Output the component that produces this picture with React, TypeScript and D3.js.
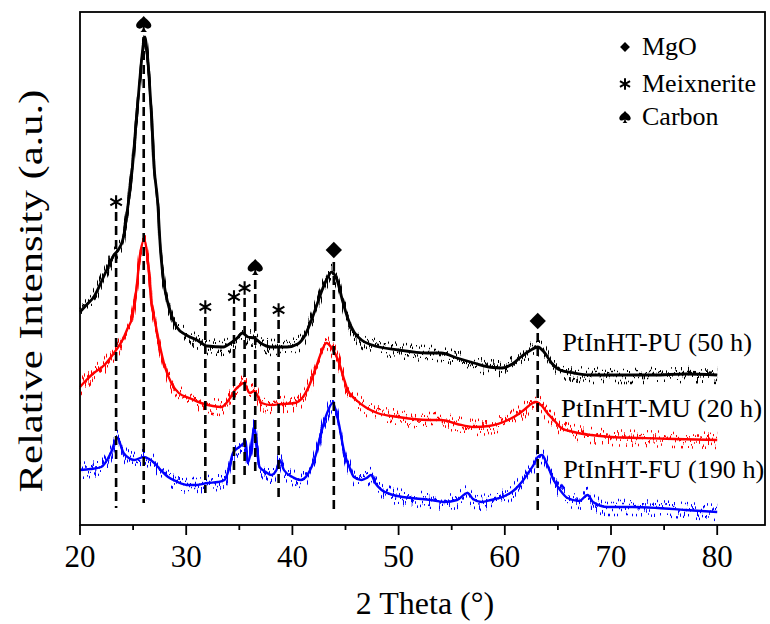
import React from "react";
import * as d3 from "d3";

// ---------- data (2θ in degrees, intensity in arbitrary units, stacked offsets included) ----------
const puTheta = [20.0,20.6,21.3,22.3,23.2,23.6,24.1,24.5,25.0,25.3,25.6,25.9,26.1,26.3,26.7,27.0,27.3,27.6,27.9,28.2,28.6,29.1,30.0,31.0,32.0,33.5,34.2,34.8,35.3,35.8,36.4,37.0,38.0,39.5,40.5,41.2,41.8,42.3,42.8,43.2,43.7,44.2,44.7,45.2,45.8,46.5,47.5,50.0,52.7,54.0,55.5,57.1,58.5,59.7,60.7,61.5,62.3,63.1,63.7,64.4,65.2,66.5,68.0,70.0,74.0,77.0,80.0];
const puIntensity = [213,220,228,250,270,275,288,318,365,405,442,475,488,475,415,355,325,272,242,225,210,198,190,185,179,178,182,187,192,188,187,182,178,178,181,190,205,220,235,245,253,245,225,207,193,185,180,175,172,172,167,162,158,157,161,168,174,178,173,162,155,152,150,150,150,151,150];

const muTheta = [20.0,20.6,21.3,22.3,23.2,24.0,24.5,24.9,25.3,25.65,26.05,26.4,26.75,27.0,27.4,28.0,28.6,29.3,30.3,31.4,32.5,33.3,34.0,34.6,35.1,35.4,36.0,36.4,37.1,38.0,39.0,40.2,41.0,41.8,42.3,42.7,43.2,43.7,44.3,44.8,45.2,46.0,47.0,48.0,50.0,52.7,54.0,55.5,57.1,58.5,60.3,61.3,61.8,62.9,63.5,64.0,64.7,65.3,66.5,68.1,70.0,72.8,76.0,80.0];
const muIntensity = [138,145,152,160,172,185,197,207,235,270,285,263,220,207,185,158,142,132,127,122,119,118,125,135,140,142,132,134,122,120,121,122,128,145,160,172,182,177,165,148,135,125,117,112,108,105,105,101,98,99,105,111,115,123,119,112,104,97,93,90,88,87,86,85];

const fuTheta = [20.0,21.0,22.0,22.9,23.5,24.1,24.6,25.1,26.0,26.5,27.0,27.6,28.3,29.2,30.2,31.0,32.0,33.0,33.6,34.0,34.4,35.0,35.5,35.8,36.1,36.4,36.7,36.9,37.5,38.0,38.5,38.8,39.2,40.0,40.8,41.4,41.8,42.2,42.7,43.2,43.8,44.3,44.9,45.4,45.8,46.5,47.0,47.4,47.8,48.4,49.5,51.2,53.0,54.3,55.5,56.5,57.0,57.8,58.7,60.0,60.9,61.6,62.2,62.7,63.1,63.5,64.0,64.6,65.2,65.9,67.0,67.8,68.3,69.7,72.0,74.4,77.0,80.0];
const fuIntensity = [55,56,58,72,87,72,67,65,68,66,62,55,48,43,40,40,42,43,45,55,72,78,82,62,75,98,75,58,53,50,55,65,55,48,45,50,58,70,92,110,122,105,72,57,48,45,47,50,42,35,30,27,25,23,25,32,26,23,25,29,35,43,52,60,68,70,60,45,35,27,24,30,23,18,18,17,15,13];

const seriesNames = ["PtInHT-PU (50 h)", "PtInHT-MU (20 h)", "PtInHT-FU (190 h)"];
const seriesColors = ["#000000", "#ff0000", "#0000ff"];
const seriesLabelTheta = [65.4, 65.3, 65.5];
const seriesLabelIntensity = [174, 108, 47];

// reflection markers
const markerTheta = [23.4, 26.0, 31.8, 34.5, 35.5, 36.5, 38.7, 43.9, 63.1];
const markerPhase = ["Meixnerite","Carbon","Meixnerite","Meixnerite","Meixnerite","Carbon","Meixnerite","MgO","MgO"];
const markerTop = [313, 488, 208, 218, 227, 245, 205, 263, 192];
const markerBottom = [17, 22, 32, 40, 48, 50, 28, 15, 10];

const legendPhases = ["MgO", "Meixnerite", "Carbon"];

const xMajorTicks = [20, 30, 40, 50, 60, 70, 80];
const xMinorTicks = [25, 35, 45, 55, 65, 75];
const xDomain = [20, 84.5];
const yDomain = [0, 513];

const W = 770, H = 624;
const M = { left: 80, right: 765, top: 12, bottom: 525 };
const FONT = "Liberation Serif, Times New Roman, Times, serif";

// unit spade outline (drawn scaled)
const SPADE = "M0,-1 C0.25,-0.65 0.95,-0.25 0.95,0.2 C0.95,0.6 0.45,0.7 0.1,0.42 C0.12,0.72 0.28,0.9 0.42,1 L-0.42,1 C-0.28,0.9 -0.12,0.72 -0.1,0.42 C-0.45,0.7 -0.95,0.6 -0.95,0.2 C-0.95,-0.25 -0.25,-0.65 0,-1 Z";

export default function App() {
  const x = d3.scaleLinear().domain(xDomain).range([M.left, M.right]);
  const y = d3.scaleLinear().domain(yDomain).range([M.bottom, M.top]);

  const series = [
    puTheta.map((t, i) => [t, puIntensity[i]]),
    muTheta.map((t, i) => [t, muIntensity[i]]),
    fuTheta.map((t, i) => [t, fuIntensity[i]]),
  ];
  const line = d3.line<number[]>().x(d => x(d[0])).y(d => y(d[1])).curve(d3.curveMonotoneX);

  const asterisk = (size: number) => d3.symbol().type(d3.symbolAsterisk).size(size)() as string;
  const diamond = (size: number) => d3.symbol().type(d3.symbolDiamond2).size(size)() as string;

  const drawSymbol = (phase: string, cx: number, cy: number, big: boolean, key: string) => {
    if (phase === "MgO") {
      return <path key={key} d={diamond(big ? 170 : 62)} transform={`translate(${cx},${cy})`} fill="#000" />;
    }
    if (phase === "Meixnerite") {
      return <path key={key} d={asterisk(big ? 125 : 95)} transform={`translate(${cx},${cy})`} fill="none" stroke="#000" strokeWidth={big ? 2.1 : 2.0} />;
    }
    const s = big ? 8 : 6;
    return <path key={key} d={SPADE} transform={`translate(${cx},${cy}) scale(${s})`} fill="#000" />;
  };

  const symOffset: Record<string, number> = { MgO: 12, Meixnerite: 10, Carbon: 13 };

  return (
    <svg width={W} height={H} style={{ position: "absolute", left: 0, top: 0, background: "#fff" }}>
      <defs>
        <filter id="xrdNoise" x="-2%" y="-20%" width="104%" height="140%">
          <feTurbulence type="fractalNoise" baseFrequency="1.3 0.03" numOctaves={1} seed={7} result="turb" />
          <feColorMatrix in="turb" type="matrix"
            values="0 0 0 0 0.5  3.2 0 0 0 -1.1  0 0 0 0 0  0 0 0 0 1" result="disp" />
          <feDisplacementMap in="SourceGraphic" in2="disp" scale={15} xChannelSelector="R" yChannelSelector="G" />
        </filter>
      </defs>

      {/* curves: solid core + noisy spikes */}
      {series.map((s, i) => (
        <g key={seriesNames[i]}>
          <path d={line(s) as string} fill="none" stroke={seriesColors[i]}
            strokeWidth={i === 0 ? 2.8 : 2.4} strokeLinejoin="round" />
          <path d={line(s) as string} fill="none" stroke={seriesColors[i]}
            strokeWidth={2.4} filter="url(#xrdNoise)" />
        </g>
      ))}

      {/* reflection markers */}
      {markerTheta.map((t, i) => (
        <line key={"m" + i} x1={x(t)} x2={x(t)} y1={y(markerTop[i])} y2={y(markerBottom[i])}
          stroke="#000" strokeWidth={2.6} strokeDasharray="9,5" />
      ))}
      {markerTheta.map((t, i) =>
        drawSymbol(markerPhase[i], x(t), y(markerTop[i]) - symOffset[markerPhase[i]], true, "s" + i)
      )}

      {/* series labels */}
      {seriesNames.map((n, i) => (
        <text key={"l" + i} x={x(seriesLabelTheta[i])} y={y(seriesLabelIntensity[i])}
          fontFamily={FONT} fontSize={25} fill="#000"
          textLength={i === 0 ? 190 : 201} lengthAdjust="spacingAndGlyphs">{n}</text>
      ))}

      {/* legend */}
      {legendPhases.map((p, i) => {
        const ly = [47, 84, 117][i];
        return (
          <g key={"lg" + p}>
            {drawSymbol(p, 625, ly, false, "ls" + p)}
            <text x={642} y={ly + 8} fontFamily={FONT} fontSize={26} fill="#000">{p}</text>
          </g>
        );
      })}

      {/* frame */}
      <rect x={M.left} y={M.top} width={M.right - M.left} height={M.bottom - M.top}
        fill="none" stroke="#000" strokeWidth={1.8} />

      {/* x ticks */}
      {xMajorTicks.map(t => (
        <g key={"t" + t}>
          <line x1={x(t)} x2={x(t)} y1={M.bottom} y2={M.bottom + 10} stroke="#000" strokeWidth={1.8} />
          <text x={x(t)} y={567} textAnchor="middle" fontFamily={FONT} fontSize={31} fill="#000">{t}</text>
        </g>
      ))}
      {xMinorTicks.map(t => (
        <line key={"mt" + t} x1={x(t)} x2={x(t)} y1={M.bottom} y2={M.bottom + 5} stroke="#000" strokeWidth={1.8} />
      ))}

      {/* axis titles */}
      <text x={425} y={614} textAnchor="middle" fontFamily={FONT} fontSize={32} fill="#000">2 Theta (°)</text>
      <text transform="translate(42,291) rotate(-90)" textAnchor="middle" fontFamily={FONT} fontSize={33} fill="#000"
        textLength={403} lengthAdjust="spacingAndGlyphs">Relative Intensity (a.u.)</text>
    </svg>
  );
}
